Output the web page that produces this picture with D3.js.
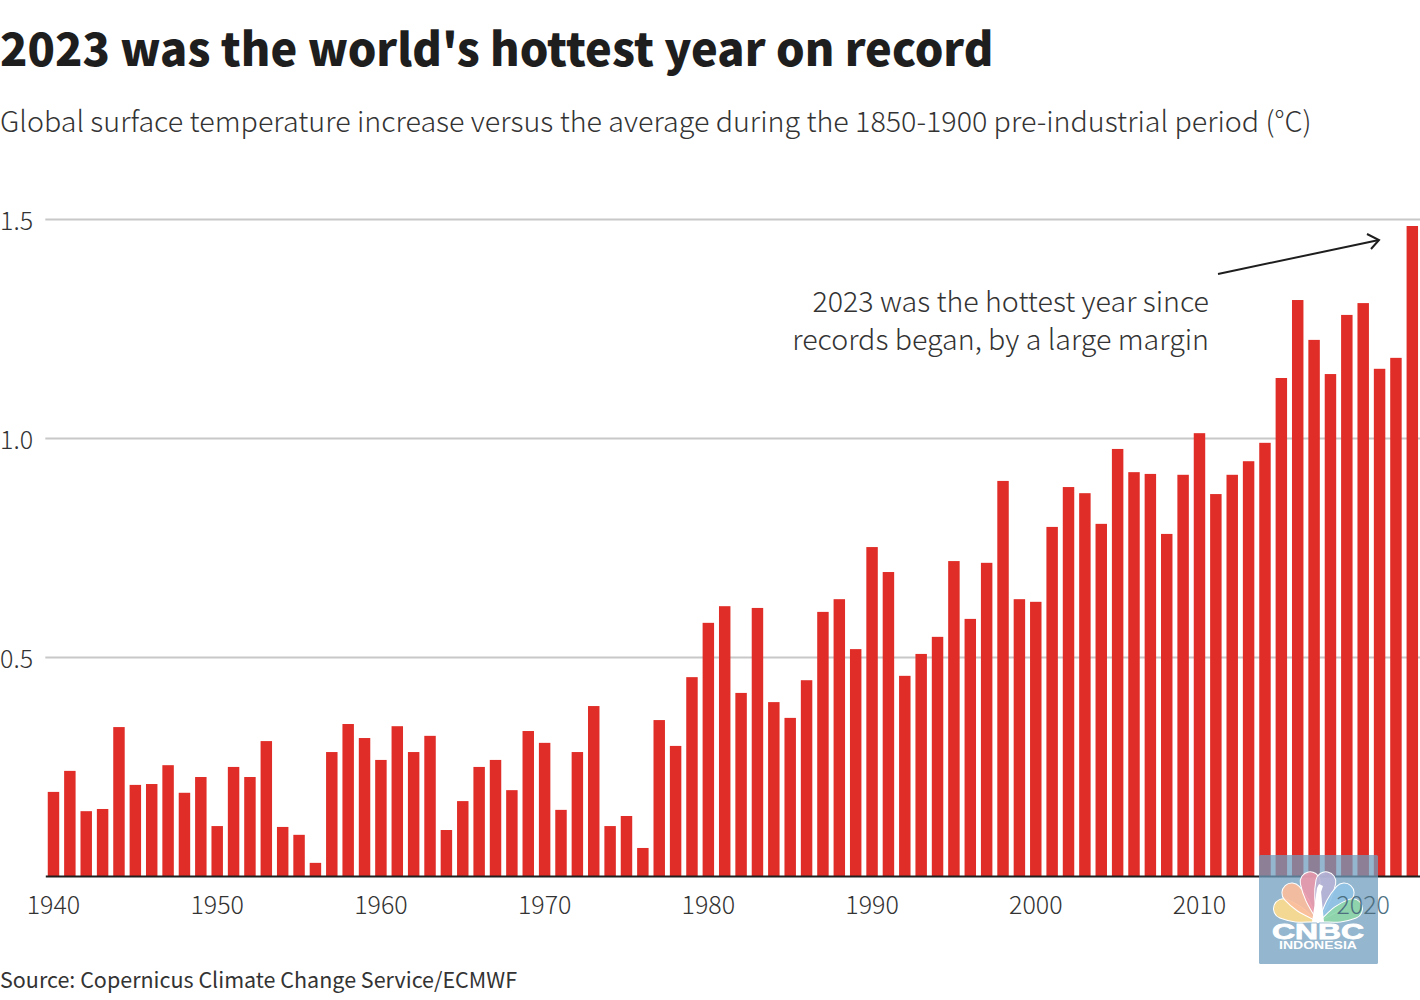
<!DOCTYPE html>
<html>
<head>
<meta charset="utf-8">
<script src="https://cdn.jsdelivr.net/npm/d3@7"></script>
<style>
  html, body { margin: 0; padding: 0; background: #fff; }
  text { font-family: "Noto Sans CJK SC", "Noto Sans", sans-serif; }
</style>
</head>
<body>
<svg id="chart"></svg>
<script>
const years = d3.range(1940, 2024);
const anomalies = [
  0.192, 0.240, 0.148, 0.153, 0.340, 0.208, 0.210, 0.253, 0.190, 0.226,
  0.114, 0.249, 0.226, 0.308, 0.112, 0.094, 0.030, 0.283, 0.347, 0.315,
  0.265, 0.342, 0.283, 0.320, 0.105, 0.171, 0.249, 0.265, 0.196, 0.331,
  0.304, 0.151, 0.283, 0.388, 0.114, 0.137, 0.064, 0.356, 0.297, 0.454,
  0.578, 0.616, 0.418, 0.612, 0.397, 0.361, 0.447, 0.603, 0.632, 0.518,
  0.751, 0.694, 0.457, 0.507, 0.546, 0.719, 0.587, 0.715, 0.902, 0.632,
  0.626, 0.797, 0.888, 0.874, 0.804, 0.975, 0.922, 0.918, 0.781, 0.916,
  1.011, 0.872, 0.916, 0.947, 0.989, 1.137, 1.315, 1.224, 1.146, 1.281,
  1.308, 1.158, 1.183, 1.484
];
const yTicks = [0.5, 1.0, 1.5];
const xTicks = [1940, 1950, 1960, 1970, 1980, 1990, 2000, 2010, 2020];
const noteLines = ["2023 was the hottest year since", "records began, by a large margin"];
const petals = [
  { angle: -69, len: 47, color: "#fddc8e" },
  { angle: -42, len: 49, color: "#fbbd9b" },
  { angle: -11, len: 51, color: "#e998ab" },
  { angle: 11, len: 51, color: "#b6b3d6" },
  { angle: 42, len: 49, color: "#90c3e6" },
  { angle: 69, len: 47, color: "#8dd6a8" }
];

const width = 1420;
const height = 1000;
const margin = { left: 45.3, right: 1420.5, top: 219, bottom: 876 };
const ink = "#1e1e1e";
const grey = "#333";
const lightWeight = 300;
const bodyFont = '"Noto Sans CJK SC", "Noto Sans", sans-serif';

const svg = d3.select("#chart")
  .attr("width", width)
  .attr("height", height)
  .style("display", "block");

// the 2020 label shows through the watermark, and is plain to the right of it
const fade = svg.append("defs").append("linearGradient")
  .attr("id", "label-fade")
  .attr("gradientUnits", "userSpaceOnUse")
  .attr("x1", 1378)
  .attr("x2", 1379)
  .attr("y1", 0)
  .attr("y2", 0);
fade.append("stop").attr("offset", 0).attr("stop-color", "#4d6f80");
fade.append("stop").attr("offset", 1).attr("stop-color", grey);

svg.append("text")
  .attr("x", 0)
  .attr("y", 66)
  .attr("font-size", 45.1)
  .attr("font-weight", 900)
  .attr("fill", ink)
  .text("2023 was the world's hottest year on record");

svg.append("text")
  .attr("x", 0)
  .attr("y", 132)
  .attr("font-size", 28.67)
  .attr("font-weight", lightWeight)
  .attr("fill", grey)
  .text("Global surface temperature increase versus the average during the 1850-1900 pre-industrial period (°C)");

const x = d3.scaleBand()
  .domain(years)
  .range([margin.left, margin.right])
  .paddingInner(0.3)
  .paddingOuter(0.15);

const y = d3.scaleLinear()
  .domain([0, 1.5])
  .range([margin.bottom, margin.top]);

const yAxis = svg.append("g")
  .attr("transform", `translate(${margin.left},0)`)
  .call(d3.axisLeft(y).tickValues(yTicks).tickFormat(d3.format(".1f")).tickSize(-(margin.right - margin.left)).tickPadding(0));
yAxis.select(".domain").remove();
yAxis.selectAll("line").attr("stroke", "#c8c8c8").attr("stroke-width", 2);
yAxis.selectAll("text")
  .attr("x", -margin.left)
  .attr("dy", "0.42em")
  .attr("text-anchor", "start")
  .attr("font-size", 25)
  .attr("font-weight", lightWeight)
  .attr("fill", grey)
  .style("font-family", bodyFont);

svg.append("g")
  .selectAll("rect")
  .data(years)
  .join("rect")
  .attr("x", (d) => x(d))
  .attr("y", (d, i) => y(anomalies[i]))
  .attr("width", x.bandwidth())
  .attr("height", (d, i) => y(0) - y(anomalies[i]))
  .attr("fill", "#e02d27");

const baseline = svg.append("g")
  .attr("transform", `translate(0,${margin.bottom})`)
  .call(d3.axisBottom(x).tickValues([]).tickSize(0));
baseline.select(".domain").attr("stroke", ink).attr("stroke-width", 2);

// annotation
svg.append("text")
  .attr("text-anchor", "end")
  .attr("font-size", 28.6)
  .attr("font-weight", lightWeight)
  .attr("fill", grey)
  .selectAll("tspan")
  .data(noteLines)
  .join("tspan")
  .attr("x", 1209)
  .attr("y", (d, i) => 312 + i * 38)
  .text((d) => d);

svg.append("path")
  .attr("d", d3.line()([[1218, 274], [1379, 240]]))
  .attr("stroke", ink)
  .attr("stroke-width", 2)
  .attr("fill", "none");
svg.append("path")
  .attr("d", d3.line()([[1367, 234], [1379, 240], [1371, 249]]))
  .attr("stroke", ink)
  .attr("stroke-width", 2)
  .attr("fill", "none");

svg.append("text")
  .attr("x", 0)
  .attr("y", 988)
  .attr("font-size", 21.5)
  .attr("fill", grey)
  .text("Source: Copernicus Climate Change Service/ECMWF");

// CNBC Indonesia watermark
const logo = svg.append("g");
logo.append("rect")
  .attr("x", 1259)
  .attr("y", 855)
  .attr("width", 119)
  .attr("height", 109)
  .attr("rx", 1.5)
  .attr("fill", "rgb(111,156,189)")
  .attr("opacity", 0.74);

const peacock = logo.append("g").attr("transform", "translate(1318,922)");
peacock.selectAll("path")
  .data(petals)
  .join("path")
  .attr("transform", (d) => `rotate(${d.angle})`)
  .attr("d", (d) => `M0,0 C-4,-12 -10,${28 - d.len} -10,${10 - d.len} A10,10 0 0 1 10,${10 - d.len} C10,${28 - d.len} 4,-12 0,0 Z`)
  .attr("fill", (d) => d.color)
  .attr("fill-opacity", 0.9)
  .attr("stroke", "#fff")
  .attr("stroke-width", 1);
peacock.append("path")
  .attr("d", "M-6,0 L-1,-34 L1,-38 L5,-36 L3,-30 L6,0 Z")
  .attr("fill", "#fff");

const wordmark = logo.append("text")
  .attr("text-anchor", "middle")
  .attr("fill", "#fff")
  .style("font-family", '"Liberation Sans", sans-serif')
  .attr("font-weight", 700);
wordmark.append("tspan")
  .attr("x", 1318)
  .attr("y", 939)
  .attr("font-size", 22)
  .attr("stroke", "#fff")
  .attr("stroke-width", 0.8)
  .attr("textLength", 92)
  .attr("lengthAdjust", "spacingAndGlyphs")
  .text("CNBC");
wordmark.append("tspan")
  .attr("x", 1318)
  .attr("y", 949)
  .attr("font-size", 11)
  .attr("textLength", 78)
  .attr("lengthAdjust", "spacingAndGlyphs")
  .text("INDONESIA");

const xLabels = svg.append("g")
  .attr("transform", `translate(0,${margin.bottom})`)
  .call(d3.axisBottom(x).tickValues(xTicks).tickSize(0).tickPadding(20));
xLabels.select(".domain").remove();
xLabels.selectAll("text")
  .attr("font-size", 25)
  .attr("font-weight", lightWeight)
  .attr("fill", (d) => (d === 2020 ? "url(#label-fade)" : grey))
  .style("font-family", bodyFont);
</script>
</body>
</html>
